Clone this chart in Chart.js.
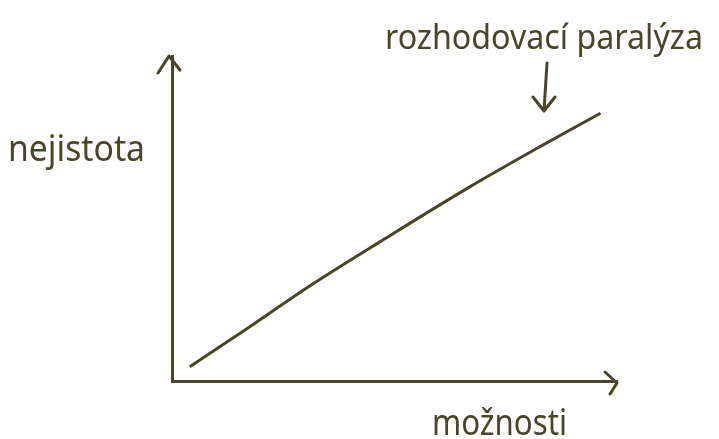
<!DOCTYPE html>
<html>
<head>
<meta charset="utf-8">
<script src="https://cdn.jsdelivr.net/npm/chart.js@4"></script>
<style>
  html, body { margin: 0; padding: 0; background: #fff; }
  #wrap { width: 719px; height: 439px; }
</style>
</head>
<body>
<div id="wrap"><canvas id="paralysisChart"></canvas></div>
<script>
// data (both axes 0..100, no units)
const options = [4, 15.3, 31.8, 46.7, 67, 82.7, 96.3];
const uncertainty = [4.4, 14.7, 30, 42.8, 59.8, 72.1, 82.4];

const xLabel = "možnosti";
const yLabel = "nejistota";
const note = "rozhodovací paralýza";

const ink = "#4a4527";
const handFont = "'Noto Sans', sans-serif";

// text squeezed to a given width, like the narrow hand lettering
function squeezeText(ctx, text, x, y, size, width) {
  ctx.save();
  ctx.font = size + "px " + handFont;
  const w = ctx.measureText(text).width;
  ctx.translate(x, y);
  ctx.scale(width / w, 1);
  ctx.fillText(text, 0, 0);
  ctx.restore();
}

const sketchBits = {
  id: "sketchBits",
  afterDraw(chart) {
    const { ctx, chartArea: a } = chart;
    ctx.save();
    ctx.strokeStyle = ink;
    ctx.fillStyle = ink;
    ctx.lineWidth = 3;
    ctx.lineCap = "round";
    ctx.lineJoin = "round";

    // arrow heads on the axes
    ctx.beginPath();
    ctx.moveTo(a.left - 14, a.top + 17);
    ctx.lineTo(a.left - 3, a.top);
    ctx.lineTo(a.left + 8, a.top + 14);
    ctx.moveTo(a.right - 12, a.bottom - 9);
    ctx.lineTo(a.right, a.bottom + 2);
    ctx.lineTo(a.right - 7, a.bottom + 13);
    ctx.stroke();

    // pointer from the note down to the curve
    ctx.beginPath();
    ctx.moveTo(547, 63);
    ctx.lineTo(544, 111);
    ctx.moveTo(533, 97);
    ctx.lineTo(544, 111);
    ctx.lineTo(555, 97);
    ctx.stroke();

    ctx.textBaseline = "alphabetic";
    squeezeText(ctx, yLabel, 8, 161, 37, 137);
    squeezeText(ctx, xLabel, 432, 435, 37, 135);
    squeezeText(ctx, note, 385, 49, 35, 318);
    ctx.restore();
  }
};

new Chart(document.getElementById("paralysisChart"), {
  type: "line",
  data: {
    datasets: [
      {
        data: options.map((x, i) => ({ x: x, y: uncertainty[i] })),
        borderColor: ink,
        borderWidth: 3,
        pointRadius: 0,
        cubicInterpolationMode: "monotone",
        fill: false,
      },
    ],
  },
  options: {
    responsive: true,
    maintainAspectRatio: false,
    animation: false,
    layout: { padding: { left: 172, right: 102, top: 56, bottom: 58 } },
    plugins: { legend: { display: false }, tooltip: { enabled: false } },
    scales: {
      x: {
        type: "linear",
        min: 0,
        max: 100,
        ticks: { display: false },
        grid: { display: false, drawTicks: false },
        border: { display: true, color: ink, width: 3 },
      },
      y: {
        min: 0,
        max: 100,
        ticks: { display: false },
        grid: { display: false, drawTicks: false },
        border: { display: true, color: ink, width: 3 },
      },
    },
  },
  plugins: [sketchBits],
});
</script>
</body>
</html>
